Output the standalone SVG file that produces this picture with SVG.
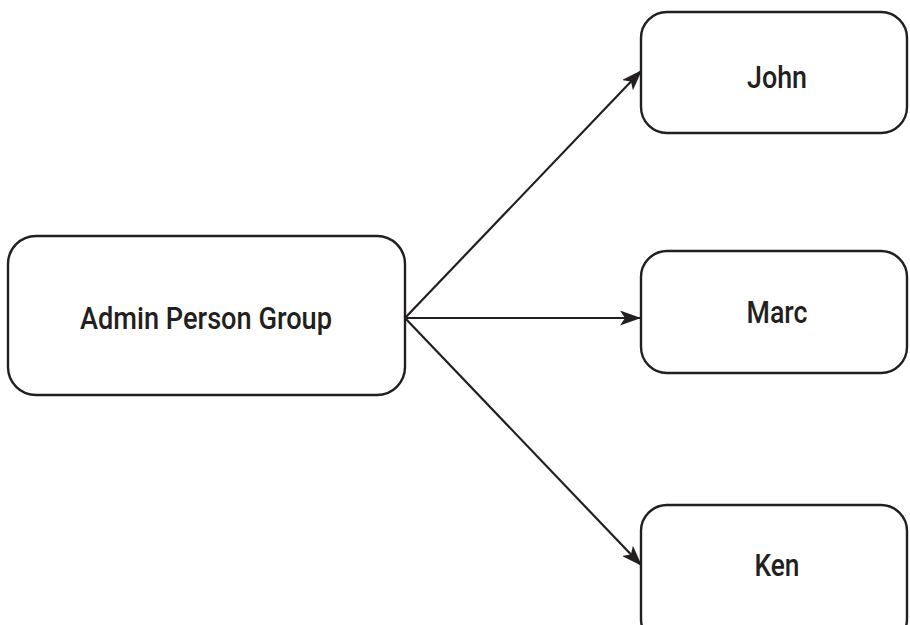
<svg xmlns="http://www.w3.org/2000/svg" width="910" height="625" viewBox="0 0 910 625">
<defs>
<marker id="arr" viewBox="0 0 21 15" refX="21" refY="7.5" markerWidth="21" markerHeight="15" markerUnits="userSpaceOnUse" orient="auto">
<path d="M0,0 L21,7.5 L0,15 L5,7.5 Z" fill="#231f20"/>
</marker>
</defs>
<style>
.box{fill:#fff;stroke:#231f20;stroke-width:2.4}
.lbl{font-family:"Roboto","Liberation Sans",sans-serif;font-weight:500;font-size:32px;fill:#231f20;text-anchor:middle}
.conn{stroke:#231f20;stroke-width:2.2;fill:none}
</style>
<g id="connectors">
<line class="conn" x1="405" y1="318" x2="642" y2="70" marker-end="url(#arr)"/>
<line class="conn" x1="405" y1="318" x2="641" y2="318" marker-end="url(#arr)"/>
<line class="conn" x1="405" y1="318" x2="642" y2="566" marker-end="url(#arr)"/>
</g>
<g id="admin">
<rect class="box" x="8" y="236" width="397" height="159" rx="28"/>
<text class="lbl" x="206" y="329" textLength="252" lengthAdjust="spacingAndGlyphs">Admin Person Group</text>
</g>
<g id="john">
<rect class="box" x="641" y="12" width="266" height="121" rx="26"/>
<text class="lbl" x="777" y="88" textLength="60" lengthAdjust="spacingAndGlyphs">John</text>
</g>
<g id="marc">
<rect class="box" x="641" y="251" width="266" height="122" rx="26"/>
<text class="lbl" x="777" y="323" textLength="61" lengthAdjust="spacingAndGlyphs">Marc</text>
</g>
<g id="ken">
<rect class="box" x="641" y="505" width="266" height="140" rx="26"/>
<text class="lbl" x="777" y="576" textLength="45" lengthAdjust="spacingAndGlyphs">Ken</text>
</g>
</svg>
